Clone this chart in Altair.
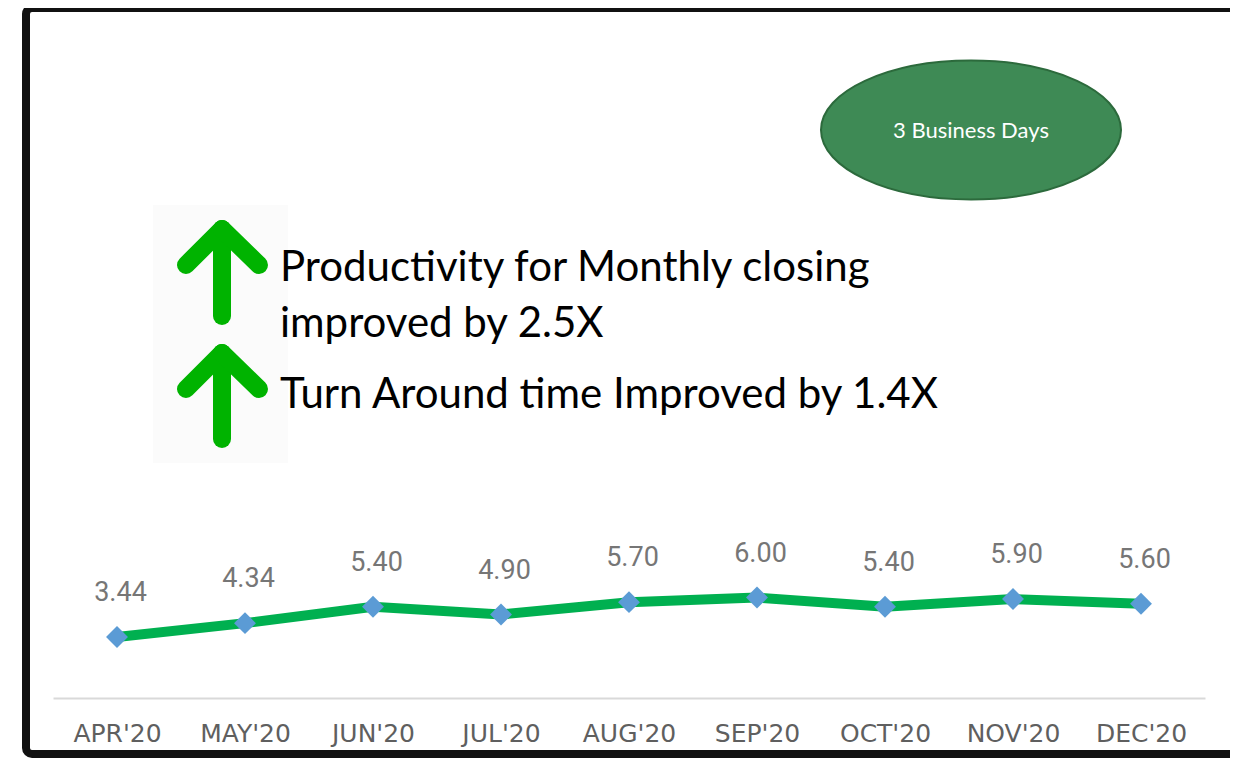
import altair as alt
import pandas as pd

months = ["APR'20", "MAY'20", "JUN'20", "JUL'20", "AUG'20", "SEP'20", "OCT'20", "NOV'20", "DEC'20"]
values = [3.44, 4.34, 5.40, 4.90, 5.70, 6.00, 5.40, 5.90, 5.60]
value_labels = ["3.44", "4.34", "5.40", "4.90", "5.70", "6.00", "5.40", "5.90", "5.60"]

bubble_text = "3 Business Days"
headline_lines = ["Productivity for Monthly closing", "improved by 2.5X", "Turn Around time Improved by 1.4X"]

df = pd.DataFrame({"month": months, "value": values, "label": value_labels})

x_enc = alt.X("month:N", sort=months,
              scale=alt.Scale(type="point", padding=0.5),
              axis=alt.Axis(title=None, labelAngle=0, ticks=False, tickSize=0,
                            domainColor="#D9D9D9", domainWidth=2,
                            labelFont="DejaVu Sans", labelFontSize=25, labelColor="#5F5F5F",
                            labelBaseline="alphabetic", labelPadding=43, grid=False))
y_enc = alt.Y("value:Q", scale=alt.Scale(domain=[-0.51, 44.2], zero=False, nice=False),
              axis=None)

base = alt.Chart(df)
line = base.mark_line(color="#00B050", strokeWidth=10).encode(x=x_enc, y=y_enc)
pts = base.mark_point(shape="diamond", size=480, filled=True, color="#5B9BD5", opacity=1).encode(x=x_enc, y=y_enc)
labels = base.mark_text(font="Roboto", fontSize=27, color="#767676", baseline="alphabetic",
                        dy=-36, dx=3.5).encode(x=x_enc, y=y_enc, text="label:N")

one = alt.Data(values=[{"k": 1}])

frame = alt.Chart(one).mark_rect(fillOpacity=0, stroke="#111111", strokeWidth=8, cornerRadius=6).encode(
    x=alt.value(-27), x2=alt.value(1230), y=alt.value(0), y2=alt.value(746))

hatch = alt.Chart(one).mark_rect(fill="#FBFBFB").encode(
    x=alt.value(100), x2=alt.value(235), y=alt.value(197), y2=alt.value(455))

ellipse_path = "M -1 0 A 1 0.463 0 1 1 1 0 A 1 0.463 0 1 1 -1 0 Z"
bubble = alt.Chart(one).mark_point(shape=ellipse_path, size=90000, filled=True, fill="#3E8A55",
                                   stroke="#2C6A3C", strokeWidth=2, opacity=1).encode(
    x=alt.value(918), y=alt.value(122))
bubble_lbl = alt.Chart(one).mark_text(text=bubble_text, font="Lato", fontSize=22, color="white",
                                      align="center", baseline="middle").encode(
    x=alt.value(918), y=alt.value(123))

arrow_color = "#00B300"
segs = []
for tip_y, bot_y, arm_y in [(221, 308, 257), (345, 431, 381)]:
    for (xa, ya, xb, yb) in [(169, tip_y, 169, bot_y), (169, tip_y, 133, arm_y), (169, tip_y, 206, arm_y)]:
        segs.append(alt.Chart(one).mark_rule(color=arrow_color, strokeWidth=18, strokeCap="round").encode(
            x=alt.value(xa), y=alt.value(ya), x2=alt.value(xb), y2=alt.value(yb)))

texts = []
for txt, yy in zip(headline_lines, [273, 329, 400]):
    texts.append(alt.Chart(one).mark_text(text=txt, font="Lato", fontSize=42, color="black",
                                          align="left", baseline="alphabetic").encode(
        x=alt.value(227), y=alt.value(yy)))

chart = alt.layer(frame, hatch, bubble, bubble_lbl, *segs, *texts, line, pts, labels).properties(
    width=1152, height=690,
    autosize=alt.AutoSizeParams(type="none"),
    padding={"left": 45, "top": 0, "right": 25, "bottom": 60},
    background="white",
).configure_view(stroke=None)

chart.save("out.html", embed_options={"renderer": "svg", "actions": False})
